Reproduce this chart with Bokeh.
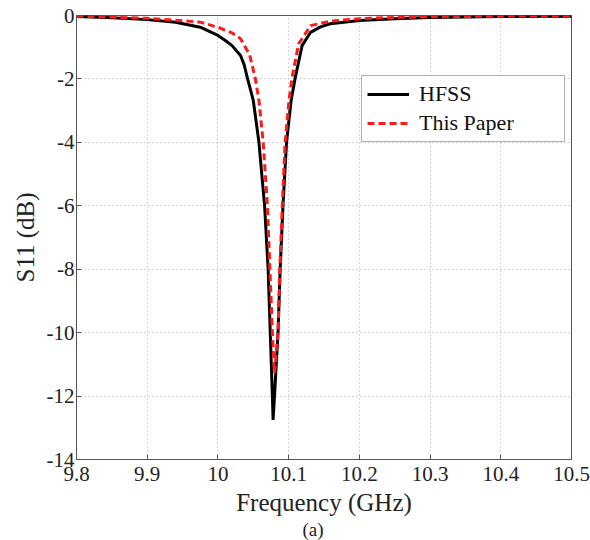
from bokeh.plotting import figure
from bokeh.models import (Legend, LegendItem, FixedTicker, Range1d, Title)
from bokeh.embed import file_html
from bokeh.resources import INLINE

# ---- data ----
hfss_f = [9.80, 9.85, 9.90, 9.94, 9.975, 10.00, 10.01, 10.02, 10.032, 10.037,
          10.042, 10.050, 10.058, 10.066, 10.071, 10.074, 10.077, 10.078, 10.080,
          10.085, 10.088, 10.092, 10.097, 10.1035, 10.109, 10.119, 10.131, 10.145,
          10.159, 10.20, 10.25, 10.30, 10.40, 10.50]
hfss_db = [-0.03, -0.07, -0.13, -0.21, -0.37, -0.63, -0.78, -0.95, -1.26, -1.55,
           -2.0, -2.68, -4.0, -6.0, -8.0, -10.0, -12.0, -12.75, -12.0,
           -10.0, -8.0, -6.0, -4.0, -2.68, -2.0, -0.95, -0.53, -0.36,
           -0.26, -0.16, -0.10, -0.06, -0.03, -0.02]

paper_f = [9.80, 9.85, 9.90, 9.94, 9.975, 10.00, 10.02, 10.032, 10.045, 10.053,
           10.058, 10.064, 10.070, 10.0735, 10.077, 10.080, 10.085, 10.0875,
           10.091, 10.095, 10.1005, 10.1045, 10.114, 10.131, 10.159, 10.20, 10.25,
           10.30, 10.40, 10.50]
paper_db = [-0.02, -0.05, -0.09, -0.15, -0.21, -0.37, -0.55, -0.73, -1.25, -2.0,
            -2.68, -4.0, -6.0, -8.0, -10.0, -11.27, -10.0, -8.0,
            -6.0, -4.0, -2.68, -2.0, -0.9, -0.32, -0.18, -0.10, -0.06,
            -0.04, -0.02, -0.01]

x_ticks = [9.8, 9.9, 10.0, 10.1, 10.2, 10.3, 10.4, 10.5]
x_tick_labels = ["9.8", "9.9", "10", "10.1", "10.2", "10.3", "10.4", "10.5"]
y_ticks = [0, -2, -4, -6, -8, -10, -12, -14]
y_tick_labels = ["0", "-2", "-4", "-6", "-8", "-10", "-12", "-14"]

series_names = ["HFSS", "This Paper"]
FONT = "Liberation Serif"

p = figure(frame_width=495, frame_height=444,
           x_range=Range1d(9.8, 10.5), y_range=Range1d(-14, 0),
           output_backend="svg", toolbar_location=None,
           min_border_left=76, min_border_top=15, min_border_right=19,
           min_border_bottom=0)
p.background_fill_color = "white"
p.border_fill_color = "white"
p.outline_line_color = "#555555"
p.outline_line_width = 1

r1 = p.line(hfss_f, hfss_db, line_color="black", line_width=3)
r2 = p.line(paper_f, paper_db, line_color="#ff1a1a", line_width=3, line_dash="7 4")

for ax in (p.xaxis[0], p.yaxis[0]):
    ax.major_tick_in = 5
    ax.major_tick_out = 0
    ax.minor_tick_line_color = None
    ax.axis_line_color = "#555555"
    ax.major_tick_line_color = "#555555"
    ax.major_label_text_font = FONT
    ax.major_label_text_font_size = "21px"
    ax.major_label_text_color = "#222222"
    ax.axis_label_text_font = FONT
    ax.axis_label_text_font_size = "25px"
    ax.axis_label_text_font_style = "normal"
    ax.axis_label_text_color = "#222222"

p.xaxis[0].ticker = FixedTicker(ticks=x_ticks)
p.xaxis[0].major_label_overrides = dict(zip(x_ticks, x_tick_labels))
p.xaxis[0].axis_label = "Frequency (GHz)"
p.xaxis[0].major_label_standoff = 7
p.xaxis[0].axis_label_standoff = 5

p.yaxis[0].ticker = FixedTicker(ticks=y_ticks)
p.yaxis[0].major_label_overrides = dict(zip(y_ticks, y_tick_labels))
p.yaxis[0].axis_label = "S11 (dB)"
p.yaxis[0].major_label_standoff = 2
p.yaxis[0].axis_label_standoff = 5

p.xgrid.ticker = FixedTicker(ticks=x_ticks)
p.ygrid.ticker = FixedTicker(ticks=y_ticks)
for g in (p.xgrid[0], p.ygrid[0]):
    g.grid_line_color = "#aaaaaa"
    g.grid_line_dash = "1 3"
    g.grid_line_width = 1

legend = Legend(items=[LegendItem(label=series_names[0], renderers=[r1]),
                       LegendItem(label=series_names[1], renderers=[r2])],
                location=(285, 317))
legend.label_text_font = FONT
legend.label_text_font_size = "22px"
legend.label_text_color = "#111111"
legend.glyph_width = 42
legend.glyph_height = 20
legend.label_height = 20
legend.label_width = 140
legend.label_standoff = 10
legend.spacing = 3
legend.padding = 5
legend.margin = 0
legend.border_line_color = "#666666"
legend.border_line_width = 1.5
legend.background_fill_color = "white"
legend.background_fill_alpha = 1
p.add_layout(legend)

cap = Title(text="(a)", align="left", offset=226, text_font=FONT,
            text_font_size="19px", text_font_style="normal", text_color="#222222",
            standoff=0, vertical_align="top", text_line_height=0.9)
p.add_layout(cap, "below")

open("out.html", "w").write(file_html(p, INLINE))
